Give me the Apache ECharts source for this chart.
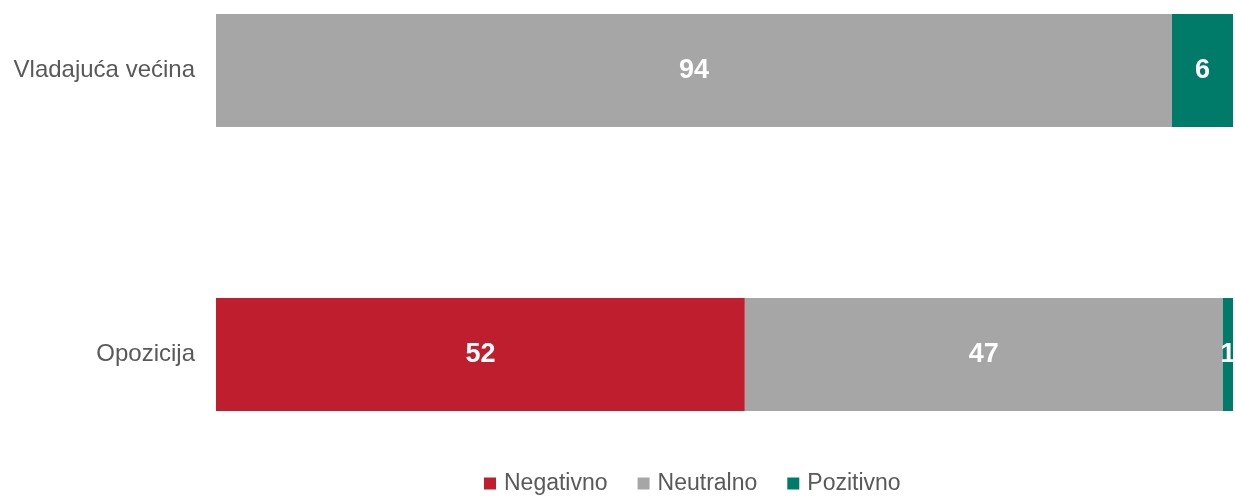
<!DOCTYPE html>
<html>
<head>
<meta charset="utf-8">
<script src="https://cdn.jsdelivr.net/npm/echarts@6/dist/echarts.min.js"></script>
<style>
  html, body { margin: 0; padding: 0; background: #fff; }
  #chart { width: 1235px; height: 496px; }
</style>
</head>
<body>
<div id="chart"></div>
<script>
const categories = ['Vladajuća većina', 'Opozicija']
const negativno = [0, 52]
const neutralno = [94, 47]
const pozitivno = [6, 1]

const colors = ['#BE1E2D', '#A6A6A6', '#007A69']
const font = 'Liberation Sans, Arial, sans-serif'

const chart = echarts.init(document.getElementById('chart'))

function barSeries(name, data, color) {
  return {
    name,
    type: 'bar',
    stack: 'total',
    data,
    barWidth: 113,
    itemStyle: { color },
    label: {
      show: true,
      position: 'inside',
      color: '#fff',
      fontFamily: font,
      fontWeight: 'bold',
      fontSize: 27,
      formatter: p => (p.value ? p.value : '')
    }
  }
}

chart.setOption({
  animation: false,
  grid: { left: 216, right: 2, top: 70.5, height: 284 },
  legend: {
    top: 467,
    left: 479,
    icon: 'rect',
    itemWidth: 12,
    itemHeight: 12,
    itemGap: 30,
    textStyle: { color: '#595959', fontSize: 23, fontFamily: font, padding: [0, 0, 0, 3] }
  },
  xAxis: { type: 'value', min: 0, max: 100, show: false },
  yAxis: {
    type: 'category',
    data: categories,
    inverse: true,
    boundaryGap: false,
    axisLine: { show: false },
    axisTick: { show: false },
    splitLine: { show: false },
    axisLabel: { color: '#595959', fontSize: 24, fontFamily: font, margin: 21 }
  },
  series: [
    barSeries('Negativno', negativno, colors[0]),
    barSeries('Neutralno', neutralno, colors[1]),
    barSeries('Pozitivno', pozitivno, colors[2])
  ]
})
</script>
</body>
</html>
